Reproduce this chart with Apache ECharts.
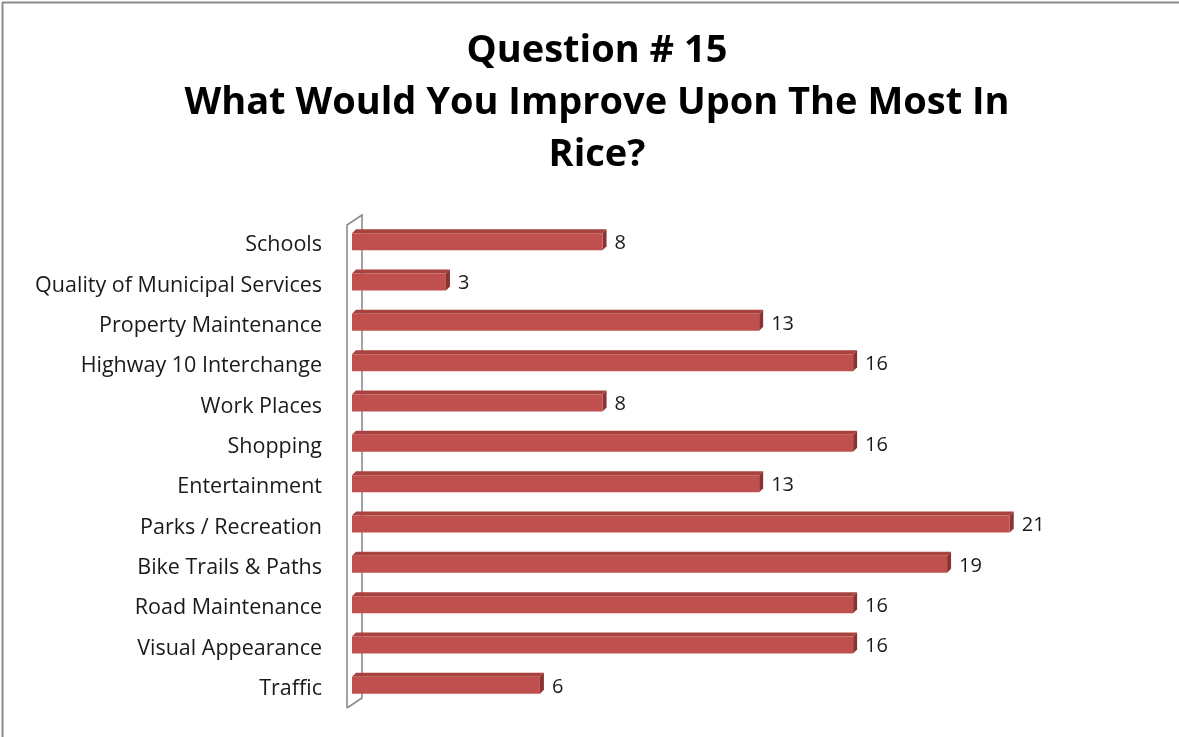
<!DOCTYPE html>
<html><head><meta charset="utf-8">
<script src="https://cdn.jsdelivr.net/npm/echarts@6/dist/echarts.min.js"></script>
<style>html,body{margin:0;padding:0;background:#fff}#c{width:1179px;height:737px}</style>
</head><body><div id="c"></div>
<script>
const categories = ["Schools","Quality of Municipal Services","Property Maintenance","Highway 10 Interchange","Work Places","Shopping","Entertainment","Parks / Recreation","Bike Trails & Paths","Road Maintenance","Visual Appearance","Traffic"];
const values = [8,3,13,16,8,16,13,21,19,16,16,6];
const titleText = "Question # 15\nWhat Would You Improve Upon The Most In\nRice?";

const chart = echarts.init(document.getElementById('c'), null, {renderer:'canvas'});
const FONT = 'Open Sans';
const GL = 352, GR = 44, GT = 225, GB = 28;

function renderBar(params, api){
  const v = api.value(0), c = api.value(1);
  const s = api.coord([0, c]), e = api.coord([v, c]);
  const h = 17, d = 4;
  const x = s[0], w = e[0]-s[0], y = s[1]-3.5-h/2;
  return {type:'group', children:[
    {type:'polygon', shape:{points:[[x,y],[x+d,y-d],[x+w+d,y-d],[x+w,y]]}, style:{fill:'#A8423F'}},
    {type:'polygon', shape:{points:[[x+w,y],[x+w+d,y-d],[x+w+d,y+h-d],[x+w,y+h]]}, style:{fill:'#8A3331'}},
    {type:'rect', shape:{x:x,y:y,width:w,height:h}, style:{fill:'#C0504D'}},
    {type:'text', x:x+w+d+8, y:y+h/2+1.5, style:{text:String(v), fill:'#1a1a1a', font:'20px "'+FONT+'"', verticalAlign:'middle', align:'left'}}
  ]};
}

chart.setOption({
  animation:false,
  title:{text:titleText, left:592, top:20, textAlign:'center',
    textStyle:{fontFamily:FONT, fontWeight:'bold', fontSize:38, lineHeight:52, color:'#000'}},
  grid:{left:GL, right:GR, top:GT, bottom:GB},
  xAxis:{type:'value', min:0, max:25, show:false},
  yAxis:{type:'category', data:categories, inverse:true,
    axisLine:{show:false}, axisTick:{show:false}, splitLine:{show:false},
    axisLabel:{margin:30, fontFamily:FONT, fontSize:21.5, color:'#1a1a1a'}},
  series:[{type:'custom', renderItem:renderBar, encode:{x:0,y:1},
    data: values.map((v,i)=>[v,i]), z:3}]
});

const wTop = GT, wBot = 737-GB, wL = GL-5, wR = GL+10;
chart.setOption({graphic:[
  {type:'polyline', z:0, shape:{points:[[wL,wBot-1],[wL,wTop],[wR,wTop-10],[wR,wBot-11],[wL,wBot-1]]}, style:{stroke:'#8c8c8c', lineWidth:1.6, fill:null}},
  {type:'line', z:0, shape:{x1:2,y1:2.5,x2:1179,y2:2.5}, style:{stroke:'#8c8c8c', lineWidth:2}},
  {type:'line', z:0, shape:{x1:2.5,y1:2,x2:2.5,y2:737}, style:{stroke:'#8c8c8c', lineWidth:2}}
]});
</script></body></html>
